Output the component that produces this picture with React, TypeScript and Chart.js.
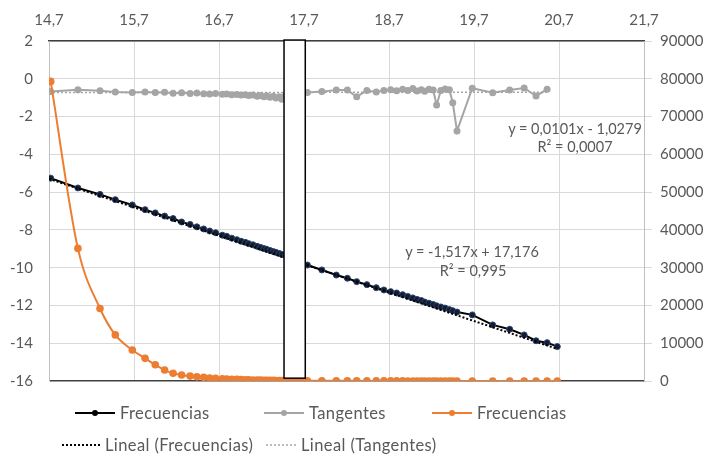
import React, { useEffect, useRef } from 'react';
import { Chart, registerables } from 'chart.js';
Chart.register(...registerables);

const FONT = 'Lato, "Open Sans", sans-serif';
const TXT = '#595959';

const xTicks = [14.7, 15.7, 16.7, 17.7, 18.7, 19.7, 20.7, 21.7];

const freqX = [
  14.72, 15.04, 15.30, 15.48, 15.68, 15.83, 15.95, 16.06, 16.16, 16.26,
  16.36, 16.44, 16.52, 16.59, 16.66, 16.74, 16.79, 16.85, 16.91, 16.96,
  17.01, 17.05, 17.10, 17.15, 17.19, 17.23, 17.26, 17.30, 17.34, 17.37,
  17.41, 17.44, 17.48, 17.52, 17.57, 17.62, 17.67,
  17.74, 17.91, 18.08, 18.21, 18.32, 18.44, 18.55, 18.64, 18.72, 18.79,
  18.86, 18.92, 18.98, 19.03, 19.08, 19.12, 19.17, 19.22, 19.26, 19.31,
  19.36, 19.41, 19.45, 19.50, 19.68, 19.92, 20.12, 20.29, 20.43, 20.56,
  20.68,
];

const freqY = [
  -5.26, -5.78, -6.12, -6.40, -6.68, -6.93, -7.10, -7.27, -7.40, -7.58,
  -7.71, -7.84, -7.95, -8.06, -8.15, -8.28, -8.34, -8.44, -8.52, -8.60,
  -8.66, -8.73, -8.79, -8.87, -8.93, -8.99, -9.03, -9.09, -9.15, -9.19,
  -9.25, -9.30, -9.36, -9.42, -9.50, -9.57, -9.64,
  -9.86, -10.12, -10.39, -10.56, -10.74, -10.90, -11.06, -11.18, -11.27, -11.34,
  -11.43, -11.52, -11.60, -11.68, -11.74, -11.82, -11.88, -11.95, -12.02, -12.08,
  -12.14, -12.22, -12.28, -12.35, -12.50, -13.03, -13.26, -13.56, -13.87, -13.97,
  -14.18,
];

const tanX = freqX.slice(0, freqX.length - 1);
const tanY = [
  -0.68, -0.58, -0.64, -0.70, -0.72, -0.70, -0.72, -0.71, -0.76, -0.74,
  -0.78, -0.75, -0.79, -0.80, -0.78, -0.82, -0.80, -0.84, -0.83, -0.86,
  -0.84, -0.88, -0.86, -0.92, -0.88, -0.95, -0.90, -0.98, -0.92, -1.02,
  -0.95, -1.08, -0.90, -0.80, -0.85, -0.80, -0.82,
  -0.72, -0.68, -0.59, -0.60, -0.95, -0.62, -0.70, -0.62, -0.58, -0.64,
  -0.55, -0.62, -0.52, -0.65, -0.58, -0.66, -0.55, -0.60, -1.39, -0.62,
  -0.54, -0.58, -1.27, -2.76, -0.50, -0.74, -0.59, -0.49, -0.91, -0.56,
];

const freq2Y = [
  79300, 35100, 19200, 12200, 8200, 6000, 4300, 2900, 2050, 1600,
  1300, 1100, 950, 800, 700, 600, 530, 470, 420, 380,
  340, 300, 270, 245, 225, 205, 190, 175, 162, 150,
  140, 130, 120, 110, 100, 90, 80,
  60, 52, 46, 41, 37, 33, 30, 27, 25, 23,
  21, 19, 18, 16, 15, 14, 13, 12, 11, 10,
  9, 9, 8, 7, 6, 5, 4, 3, 3, 2,
  2,
];

const trendFX = [14.7, 20.68];
const trendFY = [-5.3, -14.3];
const trendTX = [14.7, 20.56];
const trendTY = [-0.73, -0.71];

// white box overlay (data units)
const boxX = [17.465, 17.715];
const boxY = [2.05, -15.85];

const pts = (xs: number[], ys: number[]) => xs.map((x, i) => ({ x, y: ys[i] }));

const boxPlugin = {
  id: 'boxOverlay',
  afterDatasetsDraw(chart: any) {
    const { ctx, scales } = chart;
    const x1 = scales.x.getPixelForValue(boxX[0]);
    const x2 = scales.x.getPixelForValue(boxX[1]);
    const y1 = scales.y.getPixelForValue(boxY[0]);
    const y2 = scales.y.getPixelForValue(boxY[1]);
    ctx.save();
    ctx.fillStyle = '#ffffff';
    ctx.fillRect(x1, y1, x2 - x1, y2 - y1);
    ctx.strokeStyle = '#000000';
    ctx.lineWidth = 1.5;
    ctx.strokeRect(x1, y1, x2 - x1, y2 - y1);
    ctx.restore();
  },
};

function LegendLine({ color, dotted, marker, width = 40, lw = 2 }: any) {
  return (
    <svg width={width} height={10} style={{ display: 'block' }}>
      <line x1={0} y1={5} x2={width} y2={5} stroke={color} strokeWidth={lw}
        strokeDasharray={dotted ? '2 2' : undefined} />
      {marker ? <circle cx={width / 2} cy={5} r={3} fill={color} /> : null}
    </svg>
  );
}

const abs = (left: number, top: number): React.CSSProperties => ({
  position: 'absolute', left, top, transform: 'translateY(-50%)', whiteSpace: 'nowrap',
});
const ctr = (left: number, top: number): React.CSSProperties => ({
  position: 'absolute', left, top, transform: 'translate(-50%, -50%)', whiteSpace: 'nowrap',
});

export default function App() {
  const ref = useRef<HTMLCanvasElement>(null);
  useEffect(() => {
    if (!ref.current) return;
    const chart = new Chart(ref.current, {
      type: 'scatter',
      data: {
        datasets: [
          {
            label: 'Frecuencias',
            data: pts(freqX, freq2Y),
            yAxisID: 'y2',
            showLine: true,
            borderColor: '#ed7d31',
            backgroundColor: '#ed7d31',
            borderWidth: 2,
            pointRadius: 3.8,
            pointBorderWidth: 0,
            cubicInterpolationMode: 'monotone',
            order: 0,
          },
          {
            label: 'Lineal (Frecuencias)',
            data: pts(trendFX, trendFY),
            yAxisID: 'y',
            showLine: true,
            borderColor: '#000000',
            borderWidth: 2,
            borderDash: [2, 2],
            pointRadius: 0,
            order: 1,
          },
          {
            label: 'Lineal (Tangentes)',
            data: pts(trendTX, trendTY),
            yAxisID: 'y',
            showLine: true,
            borderColor: '#a5a5a5',
            borderWidth: 1.5,
            borderDash: [2, 2],
            pointRadius: 0,
            order: 1,
          },
          {
            label: 'Frecuencias',
            data: pts(freqX, freqY),
            yAxisID: 'y',
            showLine: true,
            borderColor: '#000000',
            backgroundColor: '#141c30',
            pointBorderColor: '#2b4470',
            borderWidth: 2,
            pointRadius: 3,
            pointBorderWidth: 1,
            order: 2,
          },
          {
            label: 'Tangentes',
            data: pts(tanX, tanY),
            yAxisID: 'y',
            showLine: true,
            borderColor: '#a5a5a5',
            backgroundColor: '#a5a5a5',
            borderWidth: 2,
            pointRadius: 3.5,
            pointBorderWidth: 0,
            order: 3,
          },
        ],
      },
      options: {
        animation: false,
        responsive: false,
        maintainAspectRatio: false,
        layout: { padding: { left: 0, right: 0, top: 0, bottom: 74 } },
        plugins: { legend: { display: false }, tooltip: { enabled: false }, title: { display: false } },
        scales: {
          x: {
            type: 'linear',
            position: 'top',
            min: 14.7,
            max: 21.7,
            afterBuildTicks: (s: any) => { s.ticks = xTicks.map((v) => ({ value: v })); },
            afterFit: (s: any) => { s.height = 41; },
            ticks: {
              color: TXT,
              font: { family: FONT, size: 15 },
              padding: 12,
              maxRotation: 0,
              autoSkip: false,
              callback: (v: any) => Number(v).toFixed(1).replace('.', ','),
            },
            grid: { color: '#d9d9d9', drawTicks: false },
            border: { color: '#404040', width: 1.5 },
          },
          y: {
            type: 'linear',
            position: 'left',
            min: -16,
            max: 2,
            afterFit: (s: any) => { s.width = 49; },
            ticks: {
              stepSize: 2,
              color: TXT,
              font: { family: FONT, size: 15 },
              padding: 16,
              callback: (v: any) => String(v),
            },
            grid: {
              drawTicks: false,
              color: (c: any) => (c.tick && c.tick.value === -16 ? '#404040' : '#d9d9d9'),
              lineWidth: (c: any) => (c.tick && c.tick.value === -16 ? 1.5 : 1),
            },
            border: { color: '#bfbfbf', width: 1 },
          },
          y2: {
            type: 'linear',
            position: 'right',
            min: 0,
            max: 90000,
            afterFit: (s: any) => { s.width = 59; },
            ticks: {
              stepSize: 10000,
              color: TXT,
              font: { family: FONT, size: 15 },
              padding: 8,
              callback: (v: any) => String(v),
            },
            grid: { drawOnChartArea: false, drawTicks: true, tickLength: 8, color: '#d9d9d9' },
            border: { color: '#bfbfbf', width: 1 },
          },
        },
      },
      plugins: [boxPlugin],
    } as any);
    return () => chart.destroy();
  }, []);

  const t: React.CSSProperties = { fontFamily: FONT, fontSize: 14.5, color: TXT };
  const lg: React.CSSProperties = { fontSize: 16.5, letterSpacing: 0.4 };

  return (
    <div style={{ position: 'fixed', left: 0, top: 0, width: 703, height: 455, background: '#fff', ...t }}>
      <canvas ref={ref} width={703} height={455} style={{ position: 'absolute', left: 0, top: 0 }} />
      <div style={ctr(575, 128)}>y = 0,0101x - 1,0279</div>
      <div style={ctr(575, 146)}>R² = 0,0007</div>
      <div style={ctr(472, 251)}>y = -1,517x + 17,176</div>
      <div style={ctr(473, 270)}>R² = 0,995</div>

      <div style={abs(75, 413)}><LegendLine color="#000000" marker /></div>
      <div style={{ ...abs(120, 413), ...lg }}>Frecuencias</div>
      <div style={abs(264, 413)}><LegendLine color="#a5a5a5" marker /></div>
      <div style={{ ...abs(309, 413), ...lg }}>Tangentes</div>
      <div style={abs(432, 413)}><LegendLine color="#ed7d31" marker /></div>
      <div style={{ ...abs(477, 413), ...lg }}>Frecuencias</div>

      <div style={abs(62, 445)}><LegendLine color="#000000" dotted width={38} /></div>
      <div style={{ ...abs(105, 445), ...lg }}>Lineal (Frecuencias)</div>
      <div style={abs(266, 445)}><LegendLine color="#a5a5a5" dotted width={32} lw={1.5} /></div>
      <div style={{ ...abs(301, 445), ...lg }}>Lineal (Tangentes)</div>
    </div>
  );
}
